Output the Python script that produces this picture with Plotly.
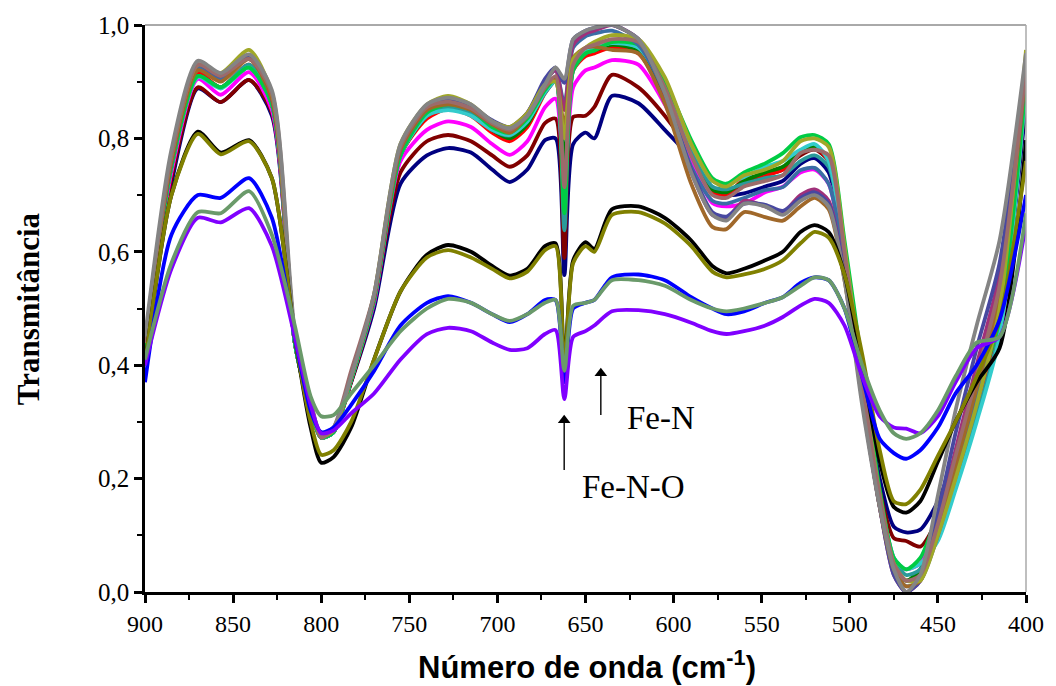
import plotly.graph_objects as go

# Wavenumber grid (cm-1), shared by every spectrum
wavenumber = [900, 885, 870, 857, 841, 828, 815, 806, 800, 793, 783, 770, 755, 740, 728, 715,
              703, 693, 683, 673, 667, 662, 657, 650, 645, 635, 620, 605, 590, 578, 570, 560,
              548, 538, 528, 520, 512, 503, 493, 483, 475, 468, 460, 450, 440, 428, 415, 400]

# Transmittance spectra
navy = [0.43, 0.72, 0.888, 0.864, 0.903, 0.84, 0.44, 0.32, 0.275, 0.285, 0.37, 0.50, 0.72, 0.77, 0.783, 0.775,
        0.745, 0.723, 0.745, 0.797, 0.80, 0.559, 0.79, 0.81, 0.80, 0.875, 0.862, 0.815, 0.765, 0.71, 0.70, 0.703,
        0.715, 0.725, 0.755, 0.765, 0.74, 0.60, 0.38, 0.20, 0.115, 0.105, 0.11, 0.16, 0.24, 0.34, 0.47, 0.86]
maroon = [0.43, 0.73, 0.89, 0.864, 0.903, 0.845, 0.44, 0.32, 0.272, 0.282, 0.37, 0.51, 0.74, 0.795, 0.806, 0.795,
          0.77, 0.75, 0.77, 0.827, 0.835, 0.589, 0.838, 0.84, 0.855, 0.912, 0.89, 0.84, 0.775, 0.705, 0.70, 0.72,
          0.735, 0.745, 0.77, 0.78, 0.76, 0.60, 0.37, 0.18, 0.095, 0.09, 0.08, 0.13, 0.22, 0.33, 0.47, 0.88]
magenta = [0.43, 0.74, 0.905, 0.877, 0.917, 0.85, 0.44, 0.32, 0.272, 0.282, 0.375, 0.51, 0.76, 0.815, 0.83, 0.82,
           0.79, 0.771, 0.795, 0.855, 0.87, 0.72, 0.89, 0.92, 0.925, 0.938, 0.93, 0.86, 0.76, 0.686, 0.68, 0.685,
           0.705, 0.715, 0.74, 0.745, 0.72, 0.58, 0.35, 0.16, 0.05, 0.04, 0.05, 0.12, 0.22, 0.34, 0.49, 0.90]
red = [0.43, 0.75, 0.915, 0.89, 0.93, 0.86, 0.44, 0.32, 0.272, 0.282, 0.375, 0.515, 0.77, 0.835, 0.852, 0.84,
       0.81, 0.795, 0.82, 0.88, 0.90, 0.74, 0.92, 0.945, 0.95, 0.96, 0.95, 0.875, 0.78, 0.705, 0.70, 0.728,
       0.735, 0.745, 0.775, 0.785, 0.76, 0.60, 0.36, 0.16, 0.04, 0.02, 0.03, 0.11, 0.21, 0.33, 0.48, 0.90]
green = [0.43, 0.75, 0.91, 0.89, 0.925, 0.86, 0.44, 0.32, 0.272, 0.282, 0.375, 0.515, 0.77, 0.84, 0.858, 0.845,
         0.815, 0.80, 0.825, 0.885, 0.905, 0.762, 0.925, 0.95, 0.955, 0.965, 0.955, 0.88, 0.78, 0.71, 0.705, 0.725,
         0.74, 0.75, 0.775, 0.785, 0.765, 0.60, 0.37, 0.17, 0.05, 0.02, 0.04, 0.12, 0.22, 0.34, 0.49, 0.91]
teal = [0.43, 0.75, 0.91, 0.89, 0.93, 0.86, 0.44, 0.32, 0.272, 0.282, 0.375, 0.515, 0.77, 0.84, 0.855, 0.845,
        0.815, 0.805, 0.83, 0.88, 0.90, 0.638, 0.92, 0.95, 0.955, 0.97, 0.96, 0.89, 0.78, 0.715, 0.71, 0.72,
        0.73, 0.735, 0.76, 0.77, 0.75, 0.60, 0.37, 0.17, 0.06, 0.03, 0.04, 0.10, 0.19, 0.31, 0.46, 0.89]
cyan = [0.43, 0.75, 0.908, 0.888, 0.925, 0.86, 0.44, 0.32, 0.272, 0.282, 0.375, 0.515, 0.77, 0.84, 0.85, 0.84,
        0.815, 0.806, 0.83, 0.882, 0.90, 0.69, 0.93, 0.955, 0.96, 0.968, 0.96, 0.89, 0.79, 0.725, 0.72, 0.732,
        0.75, 0.76, 0.78, 0.79, 0.76, 0.60, 0.37, 0.17, 0.06, 0.04, 0.05, 0.09, 0.18, 0.30, 0.45, 0.89]
light_green = [0.43, 0.75, 0.91, 0.89, 0.925, 0.86, 0.44, 0.32, 0.272, 0.282, 0.375, 0.515, 0.77, 0.845, 0.86, 0.85,
               0.82, 0.81, 0.835, 0.885, 0.905, 0.668, 0.92, 0.95, 0.955, 0.97, 0.965, 0.90, 0.797, 0.73, 0.72, 0.74,
               0.756, 0.774, 0.802, 0.806, 0.79, 0.62, 0.40, 0.18, 0.06, 0.04, 0.06, 0.14, 0.24, 0.35, 0.48, 0.90]
steel_blue = [0.44, 0.76, 0.925, 0.905, 0.945, 0.87, 0.45, 0.33, 0.275, 0.285, 0.38, 0.52, 0.78, 0.85, 0.865, 0.85,
              0.825, 0.815, 0.84, 0.90, 0.92, 0.86, 0.96, 0.98, 0.985, 0.99, 0.965, 0.88, 0.75, 0.69, 0.685, 0.695,
              0.709, 0.714, 0.744, 0.748, 0.72, 0.58, 0.35, 0.15, 0.04, 0.01, 0.02, 0.10, 0.21, 0.35, 0.52, 0.92]
purple = [0.44, 0.76, 0.93, 0.91, 0.945, 0.87, 0.45, 0.33, 0.275, 0.285, 0.38, 0.52, 0.785, 0.855, 0.87, 0.855,
          0.83, 0.82, 0.845, 0.90, 0.92, 0.85, 0.965, 0.985, 0.99, 1.0, 0.975, 0.88, 0.74, 0.665, 0.66, 0.69,
          0.68, 0.67, 0.70, 0.71, 0.69, 0.56, 0.34, 0.15, 0.03, 0.0, 0.02, 0.12, 0.25, 0.40, 0.56, 0.93]
slate = [0.44, 0.76, 0.93, 0.91, 0.945, 0.87, 0.45, 0.33, 0.275, 0.285, 0.38, 0.52, 0.785, 0.855, 0.87, 0.857,
         0.832, 0.82, 0.845, 0.905, 0.925, 0.898, 0.975, 0.99, 0.995, 1.0, 0.975, 0.88, 0.745, 0.67, 0.662, 0.685,
         0.683, 0.672, 0.695, 0.705, 0.685, 0.56, 0.34, 0.15, 0.03, 0.0, 0.02, 0.14, 0.28, 0.43, 0.58, 0.94]
brown = [0.44, 0.76, 0.92, 0.90, 0.94, 0.87, 0.45, 0.33, 0.275, 0.285, 0.38, 0.52, 0.78, 0.85, 0.86, 0.85,
         0.825, 0.81, 0.84, 0.89, 0.905, 0.82, 0.942, 0.96, 0.962, 0.956, 0.95, 0.862, 0.72, 0.644, 0.64, 0.67,
         0.661, 0.655, 0.68, 0.695, 0.675, 0.55, 0.34, 0.15, 0.04, 0.01, 0.02, 0.11, 0.22, 0.36, 0.52, 0.92]
olive_yellow = [0.44, 0.77, 0.93, 0.915, 0.956, 0.88, 0.45, 0.33, 0.275, 0.285, 0.38, 0.525, 0.79, 0.86, 0.875, 0.86,
                0.83, 0.82, 0.845, 0.895, 0.90, 0.80, 0.94, 0.96, 0.97, 0.982, 0.975, 0.908, 0.79, 0.725, 0.715, 0.735,
                0.745, 0.76, 0.795, 0.80, 0.785, 0.61, 0.38, 0.17, 0.05, 0.02, 0.02, 0.10, 0.20, 0.33, 0.50, 0.956]
rosy = [0.44, 0.77, 0.93, 0.91, 0.94, 0.88, 0.45, 0.34, 0.272, 0.29, 0.39, 0.525, 0.785, 0.855, 0.865, 0.853,
        0.827, 0.815, 0.84, 0.89, 0.91, 0.714, 0.93, 0.96, 0.965, 0.975, 0.97, 0.89, 0.77, 0.70, 0.695, 0.715,
        0.725, 0.735, 0.774, 0.78, 0.77, 0.60, 0.37, 0.17, 0.05, 0.02, 0.03, 0.12, 0.24, 0.38, 0.54, 0.926]
gray = [0.45, 0.78, 0.937, 0.915, 0.948, 0.885, 0.46, 0.33, 0.28, 0.29, 0.38, 0.525, 0.79, 0.86, 0.872, 0.86,
        0.83, 0.818, 0.84, 0.895, 0.925, 0.905, 0.975, 0.99, 0.995, 1.0, 0.975, 0.88, 0.74, 0.665, 0.655, 0.685,
        0.68, 0.665, 0.69, 0.70, 0.68, 0.55, 0.33, 0.15, 0.04, 0.0, 0.03, 0.17, 0.32, 0.47, 0.62, 0.95]
black = [0.40, 0.70, 0.812, 0.775, 0.797, 0.73, 0.45, 0.29, 0.228, 0.238, 0.29, 0.41, 0.53, 0.595, 0.612, 0.60,
         0.575, 0.558, 0.57, 0.61, 0.615, 0.40, 0.585, 0.617, 0.605, 0.675, 0.68, 0.66, 0.62, 0.575, 0.562, 0.57,
         0.585, 0.60, 0.635, 0.647, 0.635, 0.56, 0.40, 0.23, 0.15, 0.14, 0.16, 0.23, 0.30, 0.37, 0.43, 0.797]
olive = [0.40, 0.70, 0.808, 0.772, 0.795, 0.73, 0.45, 0.30, 0.242, 0.25, 0.30, 0.41, 0.53, 0.59, 0.603, 0.59,
         0.57, 0.553, 0.565, 0.603, 0.61, 0.39, 0.58, 0.61, 0.60, 0.665, 0.67, 0.65, 0.61, 0.565, 0.555, 0.56,
         0.57, 0.585, 0.615, 0.635, 0.625, 0.56, 0.42, 0.25, 0.16, 0.155, 0.18, 0.24, 0.30, 0.38, 0.48, 0.76]
blue = [0.37, 0.63, 0.70, 0.695, 0.73, 0.66, 0.45, 0.32, 0.282, 0.29, 0.33, 0.39, 0.47, 0.51, 0.522, 0.51,
        0.49, 0.476, 0.49, 0.515, 0.515, 0.37, 0.50, 0.51, 0.515, 0.555, 0.56, 0.55, 0.52, 0.50, 0.49, 0.495,
        0.51, 0.52, 0.545, 0.555, 0.55, 0.50, 0.38, 0.27, 0.245, 0.235, 0.25, 0.29, 0.35, 0.40, 0.48, 0.70]
violet = [0.40, 0.57, 0.66, 0.652, 0.677, 0.61, 0.45, 0.33, 0.28, 0.285, 0.315, 0.35, 0.41, 0.455, 0.466, 0.46,
          0.44, 0.427, 0.43, 0.455, 0.462, 0.34, 0.45, 0.46, 0.47, 0.495, 0.497, 0.49, 0.475, 0.46, 0.455, 0.46,
          0.47, 0.485, 0.505, 0.517, 0.51, 0.47, 0.38, 0.31, 0.29, 0.288, 0.28, 0.31, 0.37, 0.43, 0.45, 0.65]
gray_green = [0.41, 0.58, 0.67, 0.668, 0.707, 0.63, 0.47, 0.345, 0.31, 0.312, 0.35, 0.40, 0.46, 0.50, 0.517, 0.51,
              0.49, 0.478, 0.49, 0.51, 0.515, 0.39, 0.505, 0.51, 0.515, 0.55, 0.55, 0.54, 0.515, 0.50, 0.495, 0.50,
              0.51, 0.52, 0.54, 0.555, 0.55, 0.50, 0.40, 0.32, 0.28, 0.27, 0.28, 0.32, 0.38, 0.44, 0.45, 0.668]

series = [
    (navy, "#000080"), (maroon, "#800000"), (magenta, "#ff00ff"), (red, "#ff0000"),
    (green, "#008000"), (teal, "#2a9a9a"), (cyan, "#33cccc"), (light_green, "#00cc44"),
    (steel_blue, "#3a6ea5"), (purple, "#a0307a"), (slate, "#4848a0"), (brown, "#a0682a"),
    (olive_yellow, "#a0a828"), (rosy, "#9c6b6b"), (gray, "#848484"),
    (black, "#000000"), (olive, "#808000"), (blue, "#0000ff"), (violet, "#8000ff"),
    (gray_green, "#6a9a6a"),
]

# Band markers: (wavenumber, arrow tail, arrow tip, label, label x, label y)
bands = [
    (641.3, 0.312, 0.398, "Fe-N", 607.0, 0.307),
    (662.1, 0.215, 0.315, "Fe-N-O", 623.0, 0.185),
]

serif = "Times New Roman, Liberation Serif, serif"

fig = go.Figure()
for values, color in series:
    fig.add_trace(go.Scatter(
        x=wavenumber, y=values, mode="lines",
        line=dict(color=color, width=3.8, shape="spline", smoothing=0.7),
        showlegend=False, hoverinfo="skip",
    ))

# Arrow stems, heads and labels for the band assignments
for wn, tail, tip, label, lx, ly in bands:
    fig.add_shape(type="line", xref="x", yref="y", x0=wn, x1=wn, y0=tail, y1=tip - 0.01,
                  line=dict(color="black", width=1.4))
    fig.add_trace(go.Scatter(
        x=[wn], y=[tip - 0.012], mode="markers",
        marker=dict(symbol="triangle-up", size=11, color="black", line=dict(width=0)),
        showlegend=False, hoverinfo="skip",
    ))
    fig.add_annotation(x=lx, y=ly, xref="x", yref="y", text=label, showarrow=False,
                       font=dict(family=serif, size=33, color="black"))

fig.update_layout(
    width=1056, height=686,
    margin=dict(l=145, r=24, t=25, b=94),
    paper_bgcolor="white", plot_bgcolor="white",
    separators=",.",
    showlegend=False,
)

fig.update_xaxes(
    range=[900, 400], tickmode="linear", tick0=400, dtick=50,
    showgrid=False, zeroline=False,
    showline=True, linecolor="black", linewidth=2.5,
    ticks="outside", ticklen=8, tickwidth=2.5, tickcolor="black",
    minor=dict(dtick=25, ticks="outside", ticklen=5, tickwidth=2, tickcolor="black", showgrid=False),
    tickfont=dict(family=serif, size=24, color="black"),
)
fig.update_yaxes(
    range=[0, 1.0], tickmode="linear", tick0=0, dtick=0.2, tickformat=".1f",
    showgrid=False, zeroline=False,
    showline=True, linecolor="black", linewidth=2.5,
    ticks="outside", ticklen=8, tickwidth=2.5, tickcolor="black",
    minor=dict(dtick=0.1, ticks="outside", ticklen=5, tickwidth=2, tickcolor="black", showgrid=False),
    tickfont=dict(family=serif, size=25, color="black"),
)

# Frame: thin top and right borders
fig.add_shape(type="line", xref="paper", yref="paper", x0=0, x1=1, y0=1, y1=1,
              line=dict(color="#555555", width=1))
fig.add_shape(type="line", xref="paper", yref="paper", x0=1, x1=1, y0=0, y1=1,
              line=dict(color="#aaaaaa", width=1.5))

# Axis titles
fig.add_annotation(text="<b>Transmitância</b>", xref="paper", yref="paper",
                   x=-0.132, y=0.5, textangle=-90, showarrow=False,
                   xanchor="center", yanchor="middle",
                   font=dict(family=serif, size=31, color="black"))
fig.add_annotation(text="<b>Número de onda (cm<sup>-1</sup>)</b>", xref="paper", yref="paper",
                   x=0.502, y=-0.128, showarrow=False, xanchor="center", yanchor="middle",
                   font=dict(family="Arial, Liberation Sans, sans-serif", size=31, color="black"))

fig.write_html("out.html")
